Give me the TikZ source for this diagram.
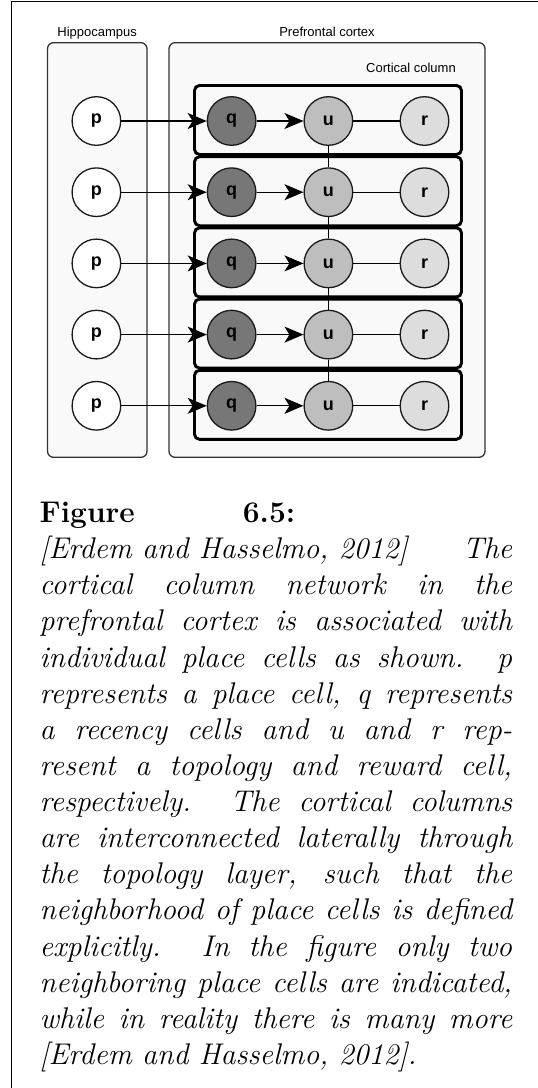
\documentclass[tikz,border=0pt]{standalone}
\usepackage{fontspec}
\newfontfamily\diagfont{Liberation Sans}
\usetikzlibrary{arrows.meta}
\definecolor{regionfill}{HTML}{F9F9F9}
\definecolor{regionline}{HTML}{333333}
\definecolor{qfill}{HTML}{777777}
\definecolor{ufill}{HTML}{BEBEBE}
\definecolor{rfill}{HTML}{DDDDDD}
\definecolor{cellline}{HTML}{1A1A1A}
\tikzset{
  region/.style={draw=regionline, fill=regionfill, line width=1.3pt, rounded corners=6pt},
  colbox/.style={draw=black, fill=regionfill, line width=2.9pt, rounded corners=5pt},
  regionlabel/.style={inner sep=0pt, font=\diagfont\fontsize{13}{15}\selectfont},
  cell/.style={circle, draw=cellline, line width=1.3pt, minimum size=48.6pt, inner sep=0pt,
    font=\diagfont\bfseries\fontsize{18}{21}\selectfont},
  pcell/.style={cell, fill=white},
  qcell/.style={cell, fill=qfill},
  ucell/.style={cell, fill=ufill},
  rcell/.style={cell, fill=rfill},
  feed/.style={line width=1.2pt, -{Stealth[length=19pt, width=16pt, inset=5pt]}},
  link/.style={line width=1.2pt},
  frameline/.style={line width=1.3pt, black}
}
\begin{document}
\begin{tikzpicture}[x=1pt, y=-1pt]
  \useasboundingbox (0,0) rectangle (538,1088);
  % page frame (top and left rules)
  \draw[frameline] (11.7,1088) -- (11.7,1.7) -- (538,1.7);

  % regions
  \draw[region] (47.5,42.7) rectangle (147,457.3);
  \draw[region] (169,42.7) rectangle (485,457.3);
  \node[regionlabel, anchor=base] (hiplabel) at (97.2,36.7) {Hippocampus};
  \node[regionlabel, anchor=base] (pfclabel) at (327,36.7) {Prefrontal cortex};
  \node[regionlabel, anchor=base east] (collabel) at (456,72.5) {Cortical column};

  % cortical columns, one row per place cell
  \foreach \k in {1,...,5} {
    \pgfmathsetmacro{\cy}{121 + (\k-1)*71.2}
    \draw[colbox] (194.5,\cy-35.5) rectangle (461.5,\cy+33.5);
  }
  \foreach \k in {1,...,5} {
    \pgfmathsetmacro{\cy}{121 + (\k-1)*71.2}
    \node[pcell] (p\k) at (96.4,\cy) {p};
    \node[qcell] (q\k) at (231.6,\cy) {q};
    \node[ucell] (u\k) at (328.4,\cy) {u};
    \node[rcell] (r\k) at (424.5,\cy) {r};
    \draw[feed] (p\k) -- (q\k);
    \draw[feed] (q\k) -- (u\k);
    \draw[link] (u\k) -- (r\k);
  }
  % lateral links through the topology layer
  \foreach \a/\b in {1/2,2/3,3/4,4/5} {
    \draw[link] (u\a.south) -- (u\b.north);
  }

  % caption
  \node[anchor=base west, inner sep=0pt] (caption) at (39.5,1064.5) {\vbox{%
    \fontsize{29.9}{36.13}\selectfont\hsize=472.5pt
    \hbox to 255.5pt{\bfseries Figure 6.5:}
    \itshape
    \hbox to \hsize{[Erdem and Hasselmo, 2012]\hfill The}
    \hbox to \hsize{cortical column network in the}
    \hbox to \hsize{prefrontal cortex is associated with}
    \hbox to \hsize{individual place cells as shown. p}
    \hbox to \hsize{represents a place cell, q represents}
    \hbox to \hsize{a recency cells and u and r rep-}
    \hbox to \hsize{resent a topology and reward cell,}
    \hbox to \hsize{respectively. The cortical columns}
    \hbox to \hsize{are interconnected laterally through}
    \hbox to \hsize{the topology layer, such that the}
    \hbox to \hsize{neighborhood of place cells is defined}
    \hbox to \hsize{explicitly. In the figure only two}
    \hbox to \hsize{neighboring place cells are indicated,}
    \hbox to \hsize{while in reality there is many more}
    \hbox{[Erdem and Hasselmo, 2012].}}};
\end{tikzpicture}
\end{document}
